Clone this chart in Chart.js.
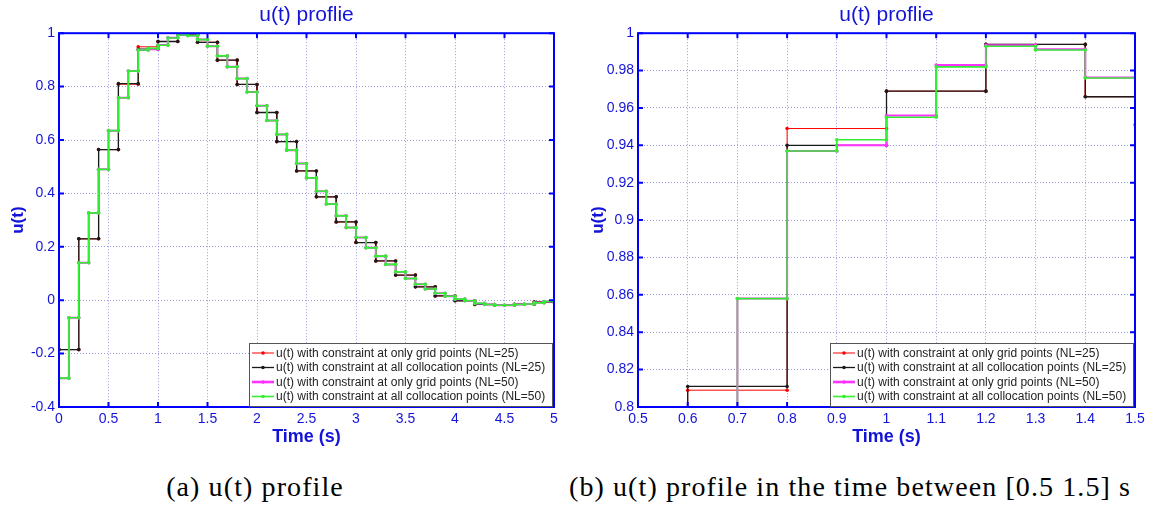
<!DOCTYPE html>
<html>
<head>
<meta charset="utf-8">
<title>u(t) profile</title>
<script src="https://cdn.jsdelivr.net/npm/chart.js@4.4.0/dist/chart.umd.min.js"></script>
<style>
  body { margin: 0; background: #fff; }
  #wrap { position: relative; width: 1155px; height: 512px; overflow: hidden; background: #fff; }
  canvas { position: absolute; top: 0; }
  #c1 { left: 0; }
  #c2 { left: 577px; }
  .cap { position: absolute; top: 471px; font-family: "Liberation Serif", "DejaVu Serif", serif; font-size: 28px; letter-spacing: 1.1px; color: #000; text-align: center; white-space: nowrap; }
</style>
</head>
<body>
<div id="wrap">
  <canvas id="c1" width="577" height="460"></canvas>
  <canvas id="c2" width="578" height="460"></canvas>
  <div class="cap" style="left:105px; width:300px;">(a) u(t) profile</div>
  <div class="cap" style="left:500px; width:700px;">(b) u(t) profile in the time between [0.5 1.5] s</div>
</div>
<script>
// time grids (interval size 0.2 s for NL=25, 0.1 s for NL=50)
const tNL25 = Array.from({ length: 26 }, (_, i) => +(i * 0.2).toFixed(1));
const tNL50 = Array.from({ length: 51 }, (_, i) => +(i * 0.1).toFixed(1));

// u(t) on each interval
const red25 = [-0.185, 0.230, 0.564, 0.809, 0.949, 0.969, 0.994, 0.966, 0.899, 0.808,
  0.703, 0.594, 0.484, 0.387, 0.293, 0.216, 0.147, 0.094, 0.050, 0.016,
  -0.002, -0.016, -0.019, -0.015, -0.007];
const black25 = [-0.185, 0.230, 0.564, 0.811, 0.940, 0.969, 0.994, 0.966, 0.899, 0.808,
  0.703, 0.594, 0.484, 0.387, 0.293, 0.216, 0.147, 0.094, 0.050, 0.016,
  -0.002, -0.016, -0.019, -0.015, -0.007];
const magenta50 = [-0.292, -0.066, 0.140, 0.327, 0.490, 0.635, 0.758, 0.858, 0.937, 0.940,
  0.956, 0.983, 0.9936, 0.9914, 0.9763, 0.951, 0.915, 0.874, 0.830, 0.780,
  0.728, 0.673, 0.621, 0.562, 0.512, 0.458, 0.408, 0.360, 0.316, 0.272,
  0.235, 0.196, 0.165, 0.134, 0.106, 0.081, 0.060, 0.042, 0.026, 0.015,
  0.004, -0.002, -0.012, -0.016, -0.019, -0.019, -0.016, -0.014, -0.010, -0.005];
const green50 = [-0.292, -0.066, 0.140, 0.327, 0.490, 0.635, 0.758, 0.858, 0.937, 0.943,
  0.955, 0.982, 0.993, 0.991, 0.976, 0.951, 0.915, 0.874, 0.830, 0.780,
  0.728, 0.673, 0.621, 0.562, 0.512, 0.458, 0.408, 0.360, 0.316, 0.272,
  0.235, 0.196, 0.165, 0.134, 0.106, 0.081, 0.060, 0.042, 0.026, 0.015,
  0.004, -0.002, -0.012, -0.016, -0.019, -0.019, -0.016, -0.014, -0.010, -0.005];

const labels = [
  "u(t) with constraint at only grid points (NL=25)",
  "u(t) with constraint at all collocation points (NL=25)",
  "u(t) with constraint at only grid points (NL=50)",
  "u(t) with constraint at all collocation points (NL=50)"
];

const blue = "#1414d8";
const font = '"Liberation Sans", Arial, sans-serif';

// matlab style tick text: 1, 0.8, 0, -0.2 ...
function tickText(v) {
  return String(Math.round(v * 1000) / 1000 || 0);
}

// stairs: one point at each corner of each step
function stairs(times, vals) {
  const pts = [];
  vals.forEach((v, i) => {
    pts.push({ x: times[i], y: v });
    pts.push({ x: times[i + 1], y: v });
  });
  return pts;
}

function dataset(label, times, vals, color, width, order) {
  return {
    label: label,
    data: stairs(times, vals),
    borderColor: color,
    backgroundColor: color,
    borderWidth: width,
    pointRadius: 1.8,
    pointBorderWidth: 0,
    pointHoverRadius: 1.8,
    tension: 0,
    order: order
  };
}

// blue box + inward ticks like matlab
const frame = {
  id: "frame",
  afterDatasetsDraw(chart) {
    const { ctx, chartArea: a, scales } = chart;
    ctx.save();
    ctx.strokeStyle = "#0000ff";
    ctx.lineWidth = 2;
    ctx.strokeRect(a.left, a.top, a.right - a.left, a.bottom - a.top);
    ctx.beginPath();
    scales.x.ticks.forEach(t => {
      const px = scales.x.getPixelForValue(t.value);
      ctx.moveTo(px, a.bottom); ctx.lineTo(px, a.bottom - 5);
      ctx.moveTo(px, a.top); ctx.lineTo(px, a.top + 5);
    });
    scales.y.ticks.forEach(t => {
      const py = scales.y.getPixelForValue(t.value);
      ctx.moveTo(a.left, py); ctx.lineTo(a.left + 5, py);
      ctx.moveTo(a.right, py); ctx.lineTo(a.right - 5, py);
    });
    ctx.stroke();
    ctx.restore();
  }
};

// legend box in the lower right corner of the plot
const boxLegend = {
  id: "boxLegend",
  afterDraw(chart) {
    const { ctx, chartArea: a } = chart;
    const w = 303, h = 63;
    const x0 = a.right - 2 - w, y0 = a.bottom - 1 - h;
    ctx.save();
    ctx.fillStyle = "#fff";
    ctx.fillRect(x0, y0, w, h);
    ctx.strokeStyle = "#555";
    ctx.lineWidth = 1;
    ctx.strokeRect(x0 + 0.5, y0 + 0.5, w, h);
    ctx.font = "12px " + font;
    ctx.textBaseline = "middle";
    chart.data.datasets.forEach((ds, i) => {
      const y = y0 + 10 + i * 14.5;
      ctx.strokeStyle = ds.borderColor;
      ctx.lineWidth = i === 2 ? 2.6 : ds.borderWidth;
      ctx.beginPath();
      ctx.moveTo(x0 + 3, y); ctx.lineTo(x0 + 25, y);
      ctx.stroke();
      ctx.fillStyle = ds.borderColor;
      ctx.beginPath();
      ctx.arc(x0 + 14, y, 1.8, 0, Math.PI * 2);
      ctx.fill();
      ctx.fillStyle = "#222";
      ctx.fillText(ds.label, x0 + 27, y + 0.5);
    });
    ctx.restore();
  }
};

function makeChart(id, xMin, xMax, xStep, yMin, yMax, yStep, yWidth, padRight, yTitlePad) {
  return new Chart(document.getElementById(id), {
    type: "line",
    data: {
      datasets: [
        dataset(labels[0], tNL25, red25, "#ff0000", 1, 4),
        dataset(labels[1], tNL25, black25, "#1a1a1a", 1.3, 3),
        dataset(labels[2], tNL50, magenta50, "#ff33ff", 2, 2),
        dataset(labels[3], tNL50, green50, "#33ee33", 1.6, 1)
      ]
    },
    options: {
      responsive: false,
      animation: false,
      events: [],
      layout: { padding: { top: 0, right: padRight, bottom: 0, left: 0 } },
      plugins: {
        legend: { display: false },
        tooltip: { enabled: false },
        title: {
          display: true,
          text: "u(t) proflie",
          color: blue,
          fullSize: false,
          font: { family: font, size: 21, weight: "normal" },
          padding: { top: 3, bottom: 5 }
        }
      },
      scales: {
        x: {
          type: "linear",
          min: xMin, max: xMax,
          afterFit: s => { s.height = 53; },
          ticks: { stepSize: xStep, color: blue, font: { family: font, size: 14 }, padding: 4, maxRotation: 0, callback: tickText },
          grid: { color: "rgba(90,90,200,0.6)", lineWidth: 1, drawTicks: false },
          border: { display: false, dash: [1, 2] },
          title: { display: true, text: "Time (s)", color: blue, font: { family: font, size: 18, weight: "bold" }, padding: { top: 0, bottom: 12 } }
        },
        y: {
          min: yMin, max: yMax,
          afterFit: s => { s.width = yWidth; },
          ticks: { stepSize: yStep, color: blue, font: { family: font, size: 14 }, padding: 4, callback: tickText },
          grid: { color: "rgba(90,90,200,0.6)", lineWidth: 1, drawTicks: false },
          border: { display: false, dash: [1, 2] },
          title: { display: true, text: "u(t)", color: blue, font: { family: font, size: 17, weight: "bold" }, padding: { top: yTitlePad, bottom: 0 } }
        }
      }
    },
    plugins: [frame, boxLegend]
  });
}

makeChart("c1", 0, 5, 0.5, -0.4, 1, 0.2, 59, 23, 8);
makeChart("c2", 0.5, 1.5, 0.1, 0.8, 1, 0.02, 61, 20, 11);
</script>
</body>
</html>
